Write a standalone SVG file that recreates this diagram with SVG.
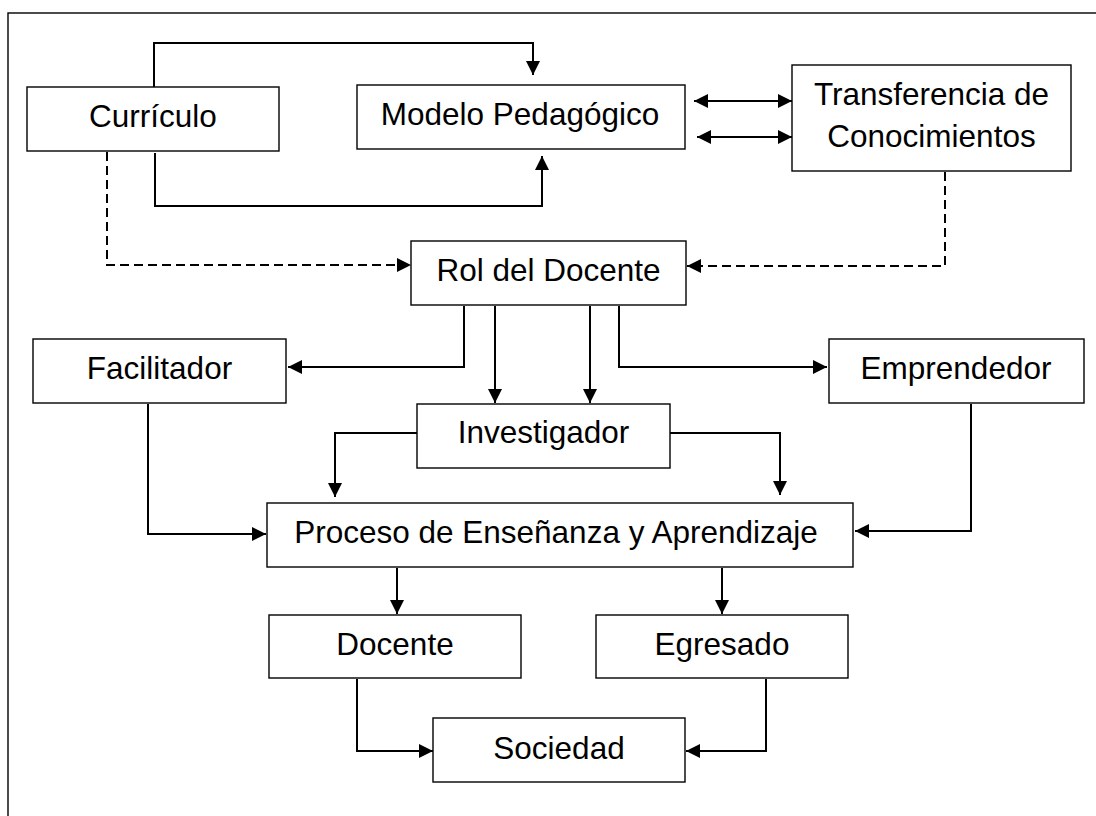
<svg xmlns="http://www.w3.org/2000/svg" width="1096" height="816" viewBox="0 0 1096 816">
<style>
.box{fill:#fff;stroke:#000;stroke-width:1.4}
.t{font-family:"Liberation Sans",Arial,sans-serif;font-size:31.5px;fill:#000;text-anchor:middle}
.c{fill:none;stroke:#000;stroke-width:2}
.d{fill:none;stroke:#000;stroke-width:2;stroke-dasharray:9 5}
</style>
<defs>
<marker id="ah" markerUnits="userSpaceOnUse" markerWidth="16" markerHeight="16" refX="14" refY="7" orient="auto">
<path d="M0,0 L14,7 L0,14 Z" fill="#000"/>
</marker>
<marker id="as" markerUnits="userSpaceOnUse" markerWidth="16" markerHeight="16" refX="0" refY="7" orient="auto">
<path d="M14,0 L0,7 L14,14 Z" fill="#000"/>
</marker>
</defs>
<rect x="8" y="13" width="1100" height="820" fill="#fff" stroke="#000" stroke-width="1.4"/>
<g id="connectors">
<path class="c" d="M154,87 V43 H533 V75" marker-end="url(#ah)"/>
<path class="c" d="M155,153 V206 H542 V156" marker-end="url(#ah)"/>
<path class="c" d="M694,101 H792" marker-start="url(#as)" marker-end="url(#ah)"/>
<path class="c" d="M697,137 H792" marker-start="url(#as)" marker-end="url(#ah)"/>
<path class="d" d="M107,152 V265 H411" marker-end="url(#ah)"/>
<path class="d" d="M945,172 V266 H687" marker-end="url(#ah)"/>
<path class="c" d="M464,306 V367 H288" marker-end="url(#ah)"/>
<path class="c" d="M495,306 V403" marker-end="url(#ah)"/>
<path class="c" d="M590,306 V403" marker-end="url(#ah)"/>
<path class="c" d="M619,306 V367 H827" marker-end="url(#ah)"/>
<path class="c" d="M417,433 H335 V497" marker-end="url(#ah)"/>
<path class="c" d="M670,433 H780 V495" marker-end="url(#ah)"/>
<path class="c" d="M148,404 V534 H266" marker-end="url(#ah)"/>
<path class="c" d="M971,404 V531 H855" marker-end="url(#ah)"/>
<path class="c" d="M397,568 V614" marker-end="url(#ah)"/>
<path class="c" d="M722,568 V614" marker-end="url(#ah)"/>
<path class="c" d="M357,679 V751 H433" marker-end="url(#ah)"/>
<path class="c" d="M766,679 V751 H686" marker-end="url(#ah)"/>
</g>
<g id="curriculo"><rect class="box" x="27" y="87" width="252" height="64"/><text class="t" x="153" y="127">Currículo</text></g>
<g id="modelo"><rect class="box" x="357" y="85" width="328" height="64"/><text class="t" x="520" y="125">Modelo Pedagógico</text></g>
<g id="transferencia"><rect class="box" x="792" y="65" width="279" height="106"/><text class="t" x="931.5" y="105">Transferencia de</text><text class="t" x="931.5" y="147">Conocimientos</text></g>
<g id="rol"><rect class="box" x="411" y="241" width="275" height="64"/><text class="t" x="548.5" y="281">Rol del Docente</text></g>
<g id="facilitador"><rect class="box" x="33" y="339" width="253" height="64"/><text class="t" x="159.5" y="379">Facilitador</text></g>
<g id="emprendedor"><rect class="box" x="829" y="339" width="255" height="64"/><text class="t" x="956" y="379">Emprendedor</text></g>
<g id="investigador"><rect class="box" x="417" y="404" width="253" height="64"/><text class="t" x="543.5" y="443">Investigador</text></g>
<g id="proceso"><rect class="box" x="267" y="503" width="586" height="64"/><text class="t" x="556" y="543">Proceso de Enseñanza y Aprendizaje</text></g>
<g id="docente"><rect class="box" x="269" y="615" width="252" height="63"/><text class="t" x="395" y="655">Docente</text></g>
<g id="egresado"><rect class="box" x="596" y="615" width="252" height="63"/><text class="t" x="722" y="655">Egresado</text></g>
<g id="sociedad"><rect class="box" x="433" y="718" width="252" height="64"/><text class="t" x="559" y="759">Sociedad</text></g>
</svg>
